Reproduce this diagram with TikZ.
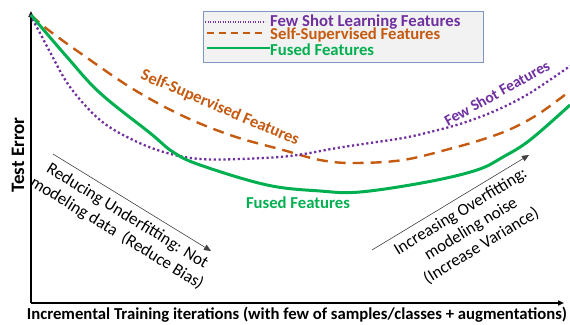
\documentclass[tikz,border=0pt]{standalone}
\usepackage{fontspec}
\setmainfont{Carlito}
\usetikzlibrary{arrows.meta}
\definecolor{fspurple}{HTML}{7030A0}
\definecolor{ssorange}{HTML}{C55A11}
\definecolor{fugreen}{HTML}{00B050}
\definecolor{legfill}{HTML}{F2F2F2}
\definecolor{legborder}{HTML}{7F96C4}
\begin{document}
\begin{tikzpicture}[x=1pt,y=-1pt,
  axis/.style={line width=1.6pt,-{Triangle[length=6pt,width=5pt]}},
  fsline/.style={fspurple,line width=2.3pt,dash pattern=on 2.2pt off 2.6pt},
  ssline/.style={ssorange,line width=2.4pt,dash pattern=on 11pt off 7pt},
  fuline/.style={fugreen,line width=3pt},
  lbl/.style={font=\bfseries\fontsize{16.7}{18}\selectfont,inner sep=0pt},
  note/.style={font=\fontsize{17}{20}\selectfont,inner sep=0pt,align=center},
  noteline/.style={line width=0.6pt,draw=black!75,-{Triangle[length=7pt,width=6pt]}}
]
\useasboundingbox (0,0) rectangle (570,324);
% axes
\coordinate (O) at (31,303);
\coordinate (ytop) at (31,11);
\coordinate (xend) at (564,303);
\draw[axis] (O) -- (ytop);
\draw[axis] (O) -- (xend);
\node[lbl,rotate=90,font=\bfseries\fontsize{19}{20}\selectfont] (ylab) at (18,155) {Test Error};
\node[lbl] (xlab) at (297,315) {Incremental Training iterations (with few of samples/classes + augmentations)};
% curves
\draw[ssline] plot[smooth,tension=0.6] coordinates {(31,15) (47,29) (83,55) (133,89) (183,116) (233,136) (283,150) (320,160) (353,163) (403,160) (453,148) (487,138) (513,128) (540,113) (570,91)};
\draw[fsline] plot[smooth,tension=0.6] coordinates {(30,15) (40,33) (50,52) (70,87) (100,120) (133,140) (167,153) (200,159) (240,159) (290,156) (337,148) (370,143) (403,138) (430,132) (463,123) (497,110) (530,93) (570,66)};
\draw[fuline] plot[smooth,tension=0.6] coordinates {(31,15) (67,57) (100,93) (150,133) (173,152) (200,165) (267,185) (320,191) (360,192) (427,182) (477,170) (503,157) (530,140) (570,105)};
% curve labels
\node[lbl,text=ssorange,rotate=-23] (sslab) at (220,108) {Self-Supervised Features};
\node[lbl,text=fspurple,rotate=29,font=\bfseries\fontsize{15.5}{17}\selectfont] (fslab) at (497,93) {Few Shot Features};
\node[lbl,text=fugreen] (fulab) at (298,203) {Fused Features};
% annotations
\coordinate (a1) at (53,154);
\coordinate (a2) at (211,251);
\draw[noteline] (a1) -- (a2);
\node[note,rotate=-31.5] (n1) at (122,225) {Reducing Underfitting: Not\\modeling data~~(Reduce Bias)};
\coordinate (b1) at (372,250);
\coordinate (b2) at (529,155);
\draw[noteline] (b1) -- (b2);
\node[note,rotate=31.3] (n2) at (471,229) {Increasing Overfitting:\\modeling noise\\(Increase Variance)};
% legend
\node[draw=legborder,fill=legfill,line width=1pt,minimum width=280pt,minimum height=51pt,inner sep=0pt] (leg) at (343,36.5) {};
\coordinate (l1a) at (205,22); \coordinate (l1b) at (265,22);
\coordinate (l2a) at (207,33); \coordinate (l2b) at (265,33);
\coordinate (l3a) at (207,48); \coordinate (l3b) at (270,48);
\draw[fspurple,line width=1.2pt,dash pattern=on 1.2pt off 1.3pt] (l1a) -- (l1b);
\draw[ssorange,line width=2pt,dash pattern=on 7pt off 5pt] (l2a) -- (l2b);
\draw[fugreen,line width=2pt] (l3a) -- (l3b);
\node[lbl,text=fspurple,anchor=west] (t1) at (270,22) {Few Shot Learning Features};
\node[lbl,text=ssorange,anchor=west] (t2) at (270,35) {Self-Supervised Features};
\node[lbl,text=fugreen,anchor=west] (t3) at (270,50) {Fused Features};
\end{tikzpicture}
\end{document}
